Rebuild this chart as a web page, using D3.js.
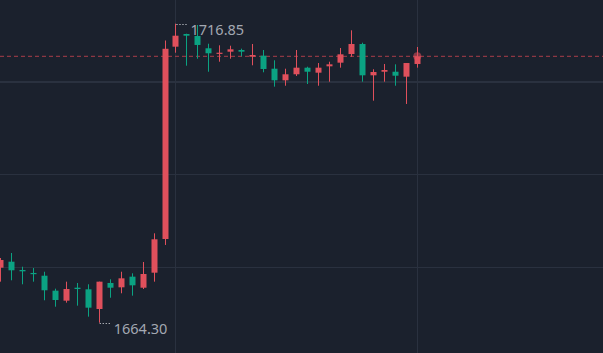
<!DOCTYPE html>
<html>
<head>
<meta charset="utf-8">
<script src="https://cdn.jsdelivr.net/npm/d3@7"></script>
<style>
  html, body { margin: 0; padding: 0; background: #1b212d; overflow: hidden; }
  svg { display: block; }
</style>
</head>
<body>
<div id="chart"></div>
<script>
// OHLC values (red = up, green = down)
const opens = [1673.97, 1675.02, 1673.56, 1673.04, 1672.56, 1669.93, 1668.17, 1670.45, 1670.17, 1666.71,
  1671.28, 1670.52, 1672.39, 1670.45, 1673.09, 1679.01, 1712.81, 1715.04, 1714.69, 1712.53,
  1711.58, 1711.93, 1712.23, 1711.05, 1711.23, 1708.94, 1706.90, 1707.96, 1709.12, 1708.24,
  1709.36, 1710.00, 1711.52, 1713.28, 1707.78, 1708.41, 1708.41, 1707.54, 1709.77];
const highs = [1675.67, 1676.55, 1674.14, 1673.91, 1673.26, 1670.28, 1671.51, 1671.28, 1671.05, 1671.51,
  1671.93, 1673.26, 1672.98, 1674.97, 1680.01, 1713.90, 1716.85, 1715.09, 1716.62, 1713.33,
  1713.05, 1712.98, 1712.46, 1713.28, 1712.23, 1710.42, 1708.94, 1712.23, 1709.29, 1709.94,
  1710.17, 1712.58, 1715.69, 1713.51, 1708.84, 1709.77, 1709.71, 1709.94, 1712.76];
const lows = [1671.51, 1671.75, 1671.05, 1671.51, 1668.24, 1667.11, 1667.82, 1667.29, 1665.36, 1664.30,
  1668.69, 1669.47, 1669.05, 1670.22, 1671.51, 1677.96, 1711.75, 1709.47, 1710.70, 1708.41,
  1710.17, 1710.70, 1711.12, 1709.54, 1708.31, 1705.78, 1705.95, 1707.66, 1706.25, 1705.95,
  1706.66, 1709.12, 1711.05, 1706.66, 1703.32, 1706.66, 1705.95, 1702.74, 1709.12];
const closes = [1675.32, 1673.51, 1673.33, 1672.86, 1670.00, 1668.29, 1670.22, 1670.22, 1666.94, 1671.51,
  1670.45, 1672.10, 1670.87, 1672.86, 1678.96, 1712.44, 1714.74, 1714.74, 1713.11, 1711.65,
  1711.75, 1712.35, 1711.93, 1711.35, 1708.89, 1706.90, 1707.96, 1709.12, 1708.41, 1709.12,
  1709.71, 1711.47, 1713.28, 1707.78, 1708.36, 1708.71, 1707.71, 1709.94, 1711.12];

const gridPrices = [1706.6, 1690.4, 1674.05];
const gridIndexes = [16, 38];

const candles = opens.map((o, i) => ({ i: i, open: o, high: highs[i], low: lows[i], close: closes[i] }));

const width = 603, height = 353;
const upColor = "#e0505c", downColor = "#0ba282";

const svg = d3.select("#chart").append("svg")
    .attr("width", width)
    .attr("height", height);

svg.append("rect")
    .attr("width", width)
    .attr("height", height)
    .attr("fill", "#1b212d");

const x = d3.scaleLinear()
    .domain([0, candles.length - 1])
    .range([0, 416.8]);

const y = d3.scaleLinear()
    .domain([d3.min(lows), d3.max(highs)])
    .range([322.7, 23.7]);

// grid
svg.append("g").selectAll("line")
    .data(gridPrices)
    .enter().append("line")
    .attr("x1", 0).attr("x2", width)
    .attr("y1", (d, i) => i === 0 ? Math.round(y(d)) : Math.round(y(d)) + 0.5)
    .attr("y2", (d, i) => i === 0 ? Math.round(y(d)) : Math.round(y(d)) + 0.5)
    .attr("stroke", "#2a313f")
    .attr("stroke-width", (d, i) => i === 0 ? 2 : 1);

svg.append("g").selectAll("line")
    .data(gridIndexes)
    .enter().append("line")
    .attr("y1", 0).attr("y2", height)
    .attr("x1", d => Math.round(x(d)) + 0.5)
    .attr("x2", d => Math.round(x(d)) + 0.5)
    .attr("stroke", "#2a313f")
    .attr("stroke-width", 1);

// last price line
const last = candles[candles.length - 1];
svg.append("line")
    .attr("x1", 0).attr("x2", width)
    .attr("y1", y(last.close)).attr("y2", y(last.close))
    .attr("stroke", "#c4434f")
    .attr("stroke-opacity", 0.85)
    .attr("stroke-dasharray", "4,3")
    .attr("stroke-width", 1);

const barW = 6;
const colorOf = d => d.close >= d.open ? upColor : downColor;

const g = svg.append("g");

g.selectAll("line.wick")
    .data(candles)
    .enter().append("line")
    .attr("class", "wick")
    .attr("x1", d => Math.round(x(d.i)) + 0.5)
    .attr("x2", d => Math.round(x(d.i)) + 0.5)
    .attr("y1", d => y(d.high))
    .attr("y2", d => y(d.low))
    .attr("stroke", colorOf)
    .attr("stroke-width", 1);

g.selectAll("rect.body")
    .data(candles)
    .enter().append("rect")
    .attr("class", "body")
    .attr("x", d => Math.round(x(d.i)) + 0.5 - barW / 2)
    .attr("y", d => y(Math.max(d.open, d.close)))
    .attr("width", barW)
    .attr("height", d => Math.max(1.2, Math.abs(y(d.open) - y(d.close))))
    .attr("fill", colorOf);

// pulse dot on last price
svg.append("circle")
    .attr("cx", x(last.i) + 0.5)
    .attr("cy", y(last.close))
    .attr("r", 4)
    .attr("fill", upColor)
    .attr("fill-opacity", 0.55);

// high / low markers
const hiIdx = d3.maxIndex(highs), loIdx = d3.minIndex(lows);
const marks = [
    { i: hiIdx, v: highs[hiIdx] },
    { i: loIdx, v: lows[loIdx] }
];

marks.forEach(m => {
    const cx = x(m.i) + 1, cy = Math.round(y(m.v)) + 0.5;
    svg.append("line")
        .attr("x1", cx).attr("x2", cx + 12)
        .attr("y1", cy).attr("y2", cy)
        .attr("stroke", "#e2e5ea")
        .attr("stroke-dasharray", "1,2")
        .attr("stroke-width", 1);
    svg.append("text")
        .attr("x", cx + 14)
        .attr("y", cy + 10.5)
        .attr("fill", "#a3a8b2")
        .attr("font-family", "'Noto Sans', sans-serif")
        .attr("font-size", 14.5)
        .text(m.v.toFixed(2));
});
</script>
</body>
</html>
